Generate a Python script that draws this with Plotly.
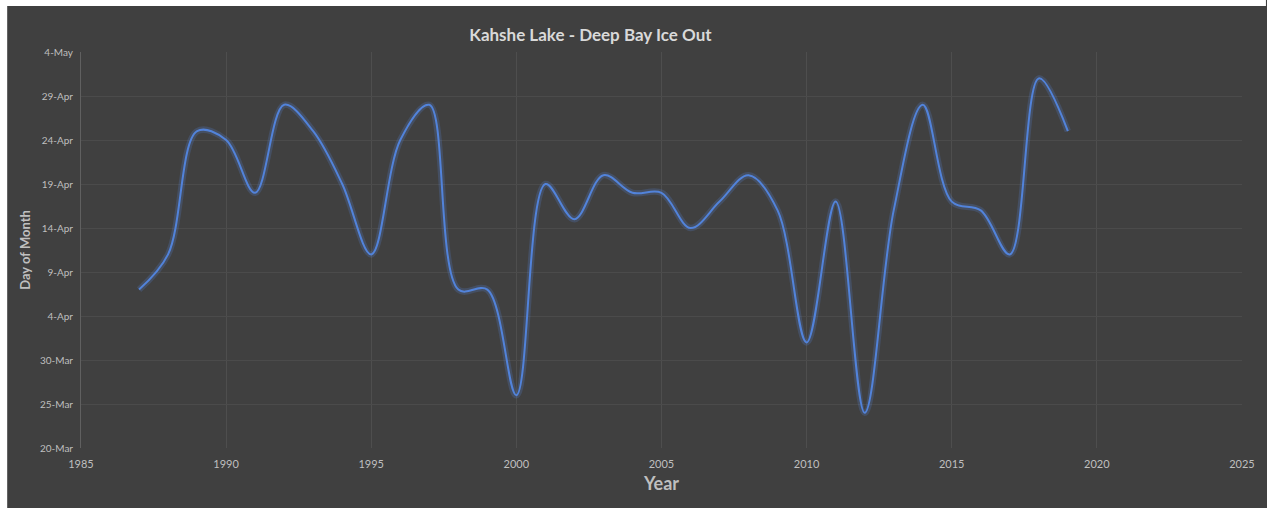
import pandas as pd
import plotly.graph_objects as go

years = list(range(1987, 2020))
ice_out = ["Apr 7", "Apr 11", "Apr 25", "Apr 24", "Apr 18", "Apr 28", "Apr 25", "Apr 19",
           "Apr 11", "Apr 24", "Apr 28", "Apr 7", "Apr 7", "Mar 26", "Apr 19", "Apr 15",
           "Apr 20", "Apr 18", "Apr 18", "Apr 14", "Apr 17", "Apr 20", "Apr 16", "Apr 1",
           "Apr 17", "Mar 24", "Apr 16", "Apr 28", "Apr 17", "Apr 16", "Apr 11", "May 1",
           "Apr 25"]
y_tick_dates = ["Mar 20", "Mar 25", "Mar 30", "Apr 4", "Apr 9", "Apr 14", "Apr 19",
                "Apr 24", "Apr 29", "May 4"]
y_tick_labels = ["20-Mar", "25-Mar", "30-Mar", "4-Apr", "9-Apr", "14-Apr", "19-Apr",
                 "24-Apr", "29-Apr", "4-May"]
x_ticks = [1985, 1990, 1995, 2000, 2005, 2010, 2015, 2020, 2025]

def to_date(s):
    return pd.to_datetime("2001 " + s, format="%Y %b %d")

y_vals = [to_date(s) for s in ice_out]
y_tv = [to_date(s) for s in y_tick_dates]

BG = "#404040"
FONT = "Lato"

fig = go.Figure()
fig.add_trace(go.Scatter(x=years, y=y_vals, mode="lines",
                         line=dict(color="rgba(90,140,235,0.20)", width=6.5, shape="spline", smoothing=1.0),
                         hoverinfo="skip", showlegend=False))
fig.add_trace(go.Scatter(x=years, y=y_vals, mode="lines",
                         line=dict(color="#5283da", width=2, shape="spline", smoothing=1.0),
                         showlegend=False))

W, H = 1267, 508
L, R, T, B = 81, 22, 52, 60
pw, ph = W - L - R, H - T - B
def px_x(p):
    return (p - L) / pw
def px_y(q):
    return (H - B - q) / ph

# white outer strips (left & top)
fig.add_shape(type="rect", xref="paper", yref="paper", x0=px_x(-2), x1=px_x(7), y0=px_y(H + 2), y1=px_y(-2),
              fillcolor="white", line_width=0, layer="below")
fig.add_shape(type="rect", xref="paper", yref="paper", x0=px_x(-2), x1=px_x(W + 2), y0=px_y(6), y1=px_y(-2),
              fillcolor="white", line_width=0, layer="below")

fig.update_layout(
    width=W, height=H,
    margin=dict(l=L, r=R, t=T, b=B),
    paper_bgcolor=BG, plot_bgcolor=BG,
    font=dict(family=FONT, color="#bfbfbf", size=11),
    title=dict(text="<b>Kahshe Lake - Deep Bay Ice Out</b>", x=0.466, xref="container", xanchor="center",
               y=1 - 35 / H, yref="container", yanchor="middle",
               font=dict(family=FONT, size=17, color="#d9d9d9")),
    xaxis=dict(range=[1985, 2025], tickvals=x_ticks, showgrid=True, gridcolor="#4e4e4e", gridwidth=1,
               zeroline=False, showline=False, ticks="outside", ticklen=6, tickcolor=BG,
               tickfont=dict(size=11, color="#bfbfbf"),
               title=dict(text="<b>Year</b>", font=dict(size=18, color="#bfbfbf"), standoff=8)),
    yaxis=dict(type="date", range=[y_tv[0], y_tv[-1]], tickvals=y_tv, ticktext=y_tick_labels,
               showgrid=True, gridcolor="#4b4b4b", gridwidth=1, zeroline=False,
               showline=True, linecolor="#606060", linewidth=1,
               ticks="outside", ticklen=5, tickcolor=BG,
               tickfont=dict(size=10, color="#bfbfbf"),
               title=dict(text="<b>Day of Month</b>", font=dict(size=13, color="#bfbfbf"), standoff=6)),
)

fig.write_html("out.html")
